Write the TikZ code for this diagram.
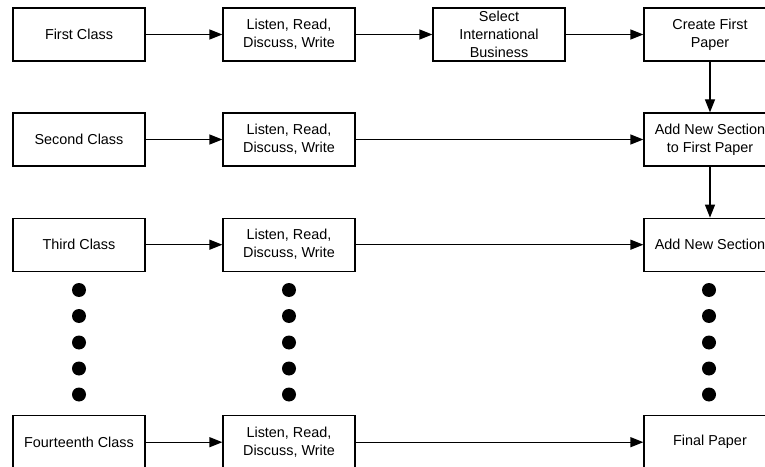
\documentclass[tikz,border=0pt]{standalone}
\usepackage{fontspec}
\setmainfont{Liberation Sans}
\usetikzlibrary{arrows.meta}
\begin{document}
\begin{tikzpicture}[x=0.75pt,y=-0.75pt,
  box/.style={draw,line width=0.9pt,minimum width=99pt,minimum height=39.75pt,inner sep=0pt,align=center,font=\fontsize{10.8}{13.5}\selectfont},
  dot/.style={circle,fill=black,inner sep=0pt,minimum size=10.5pt},
  arr/.style={line width=0.9pt,-{Triangle[length=9.75pt,width=7.5pt]}}]
\useasboundingbox (0,0) rectangle (765,467);
\clip (0,0) rectangle (765,467);
% row 1
\node[box] (a1) at (79,34.5) {First Class};
\node[box] (b1) at (289,34.5) {Listen, Read,\\Discuss, Write};
\node[box] (c1) at (499,34.5) {Select\\International\\Business};
\node[box] (d1) at (710,34.5) {Create First\\Paper};
% row 2
\node[box] (a2) at (79,139.5) {Second Class};
\node[box] (b2) at (289,139.5) {Listen, Read,\\Discuss, Write};
\node[box] (d2) at (710,139.5) {Add New Section\\to First Paper};
% row 3
\node[box] (a3) at (79,244.7) {Third Class};
\node[box] (b3) at (289,244.7) {Listen, Read,\\Discuss, Write};
\node[box] (d3) at (710,244.7) {Add New Section};
% row 4
\node[box] (a4) at (79,442.2) {Fourteenth Class};
\node[box] (b4) at (289,442.2) {Listen, Read,\\Discuss, Write};
\node[box] (d4) at (710,442.2) {Final Paper};
% dots
\foreach \i/\y in {1/290,2/316,3/342.5,4/368.5,5/394.5}{
  \node[dot] (pa\i) at (79,\y) {};
  \node[dot] (pb\i) at (289,\y) {};
  \node[dot] (pd\i) at (709,\y) {};
}
% arrows
\draw[arr] (a1) -- (b1);
\draw[arr] (b1) -- (c1);
\draw[arr] (c1) -- (d1);
\draw[arr] (a2) -- (b2);
\draw[arr] (b2) -- (d2);
\draw[arr] (a3) -- (b3);
\draw[arr] (b3) -- (d3);
\draw[arr] (a4) -- (b4);
\draw[arr] (b4) -- (d4);
\draw[arr] (d1) -- (d2);
\draw[arr] (d2) -- (d3);
\end{tikzpicture}
\end{document}
